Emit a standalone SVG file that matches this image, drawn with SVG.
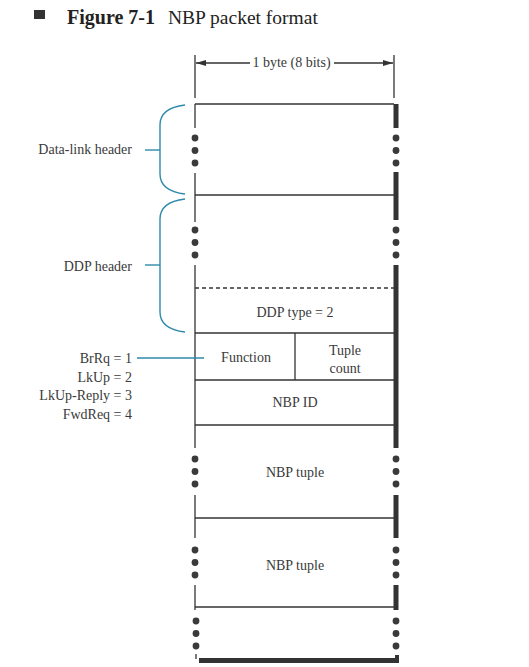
<svg xmlns="http://www.w3.org/2000/svg" width="529" height="667" viewBox="0 0 529 667">
<defs>
<style>
text{font-family:"Liberation Serif","Times New Roman",serif;fill:#3a3a3a;font-size:14px}
.c{text-anchor:middle}
.r{text-anchor:end}
.ln{stroke:#333;stroke-width:1.3;fill:none}
.thick{fill:#333}
.dot{fill:#3a3a3a}
.blue{stroke:#2e8aab;stroke-width:1.4;fill:none}
</style>
<marker id="ah" viewBox="0 0 10 6" refX="10" refY="3" markerWidth="10" markerHeight="6" markerUnits="userSpaceOnUse" orient="auto-start-reverse">
<path d="M0,0 L10,3 L0,6 Z" fill="#333"/>
</marker>
<g id="dots3"><circle cx="0" cy="0" r="3.4"/><circle cx="0" cy="12.5" r="3.4"/><circle cx="0" cy="25" r="3.4"/></g>
</defs>
<rect width="529" height="667" fill="#fff"/>

<g id="title">
<rect x="34" y="10" width="11" height="9" fill="#333"/>
<text x="67" y="24" style="font-size:20px;font-weight:bold;fill:#222">Figure 7-1</text>
<text x="168" y="24" style="font-size:19.5px;fill:#222">NBP packet format</text>
</g>

<g id="dimension">
<line class="ln" x1="195" y1="55" x2="195" y2="98"/>
<line class="ln" x1="394" y1="55" x2="394" y2="98"/>
<line class="ln" x1="196" y1="63" x2="250" y2="63" marker-start="url(#ah)"/>
<line class="ln" x1="334" y1="63" x2="393" y2="63" marker-end="url(#ah)"/>
<text class="c" x="291.5" y="67">1 byte (8 bits)</text>
</g>

<g id="frame">
<line class="ln" x1="195" y1="104" x2="195" y2="128"/>
<line class="ln" x1="195" y1="173" x2="195" y2="222"/>
<line class="ln" x1="195" y1="265" x2="195" y2="448"/>
<line class="ln" x1="195" y1="495" x2="195" y2="538"/>
<line class="ln" x1="195" y1="585" x2="195" y2="610"/>
<line class="ln" x1="196" y1="654" x2="196" y2="659"/>
<rect class="thick" x="393.5" y="104" width="5" height="24"/>
<rect class="thick" x="393.5" y="172" width="5" height="48"/>
<rect class="thick" x="393.5" y="265" width="5" height="183"/>
<rect class="thick" x="393.5" y="495" width="5" height="43"/>
<rect class="thick" x="393.5" y="585" width="5" height="25"/>
<rect class="thick" x="395" y="655" width="4" height="8"/>
<rect class="thick" x="199" y="658" width="200" height="5"/>
<g class="dot">
<use href="#dots3" x="195" y="138"/><use href="#dots3" x="396" y="138"/>
<use href="#dots3" x="195" y="230"/><use href="#dots3" x="396" y="230"/>
<use href="#dots3" x="195" y="459"/><use href="#dots3" x="396" y="459"/>
<use href="#dots3" x="195" y="550"/><use href="#dots3" x="396" y="550"/>
<use href="#dots3" x="196" y="621"/><use href="#dots3" x="396" y="621"/>
</g>
</g>

<g id="datalink">
<line class="ln" x1="195" y1="104" x2="394" y2="104"/>
</g>
<g id="ddp">
<line class="ln" x1="195" y1="195" x2="394" y2="195"/>
<line class="ln" x1="195" y1="288" x2="394" y2="288" stroke-dasharray="4,3"/>
<text class="c" x="295" y="317">DDP type = 2</text>
</g>
<g id="function">
<line class="ln" x1="195" y1="333" x2="394" y2="333"/>
<line class="ln" x1="295" y1="333" x2="295" y2="380"/>
<text class="c" x="246" y="362">Function</text>
</g>
<g id="tuplecount">
<text class="c" x="345" y="355">Tuple</text>
<text class="c" x="345" y="373">count</text>
</g>
<g id="nbpid">
<line class="ln" x1="195" y1="380" x2="394" y2="380"/>
<text class="c" x="295" y="407">NBP ID</text>
</g>
<g id="tuple1">
<line class="ln" x1="195" y1="425" x2="394" y2="425"/>
<text class="c" x="295" y="477">NBP tuple</text>
</g>
<g id="tuple2">
<line class="ln" x1="195" y1="518" x2="394" y2="518"/>
<text class="c" x="295" y="570">NBP tuple</text>
</g>
<g id="tuple3">
<line class="ln" x1="195" y1="607" x2="394" y2="607"/>
</g>

<g id="labels">
<text class="r" x="132" y="154">Data-link header</text>
<text class="r" x="132" y="271">DDP header</text>
<text class="r" x="132" y="363">BrRq = 1</text>
<text class="r" x="132" y="381.5">LkUp = 2</text>
<text class="r" x="132" y="400">LkUp-Reply = 3</text>
<text class="r" x="132" y="418.5">FwdReq = 4</text>
</g>

<g id="connectors">
<path class="blue" d="M185,105 C168,107 160,114 160,125 L160,174 C160,185 168,192 185,194"/>
<line class="blue" x1="145" y1="150" x2="160" y2="150"/>
<path class="blue" d="M185,199 C168,201 160,208 160,219 L160,312 C160,323 168,330 185,332"/>
<line class="blue" x1="145" y1="265" x2="160" y2="265"/>
<line class="blue" x1="137" y1="358" x2="204" y2="358"/>
</g>
</svg>
